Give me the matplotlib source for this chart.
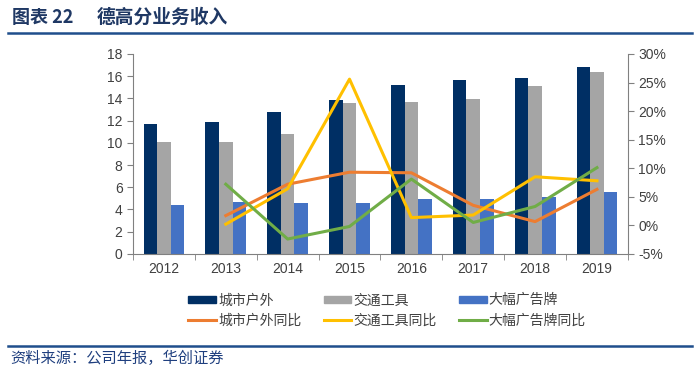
import numpy as np
import matplotlib.pyplot as plt
from matplotlib.patches import Patch
from matplotlib.lines import Line2D
from matplotlib.ticker import FuncFormatter

plt.rcParams['font.family'] = ['Noto Sans CJK SC', 'DejaVu Sans']

years = ['2012', '2013', '2014', '2015', '2016', '2017', '2018', '2019']
outdoor = [11.7, 11.9, 12.75, 13.9, 15.2, 15.7, 15.85, 16.87]
transport = [10.1, 10.1, 10.8, 13.55, 13.7, 13.95, 15.15, 16.35]
billboard = [4.38, 4.65, 4.55, 4.55, 4.9, 4.9, 5.1, 5.6]

# 同比 (%), 2013 起
outdoor_yoy = [1.7, 7.2, 9.3, 9.2, 3.5, 0.65, 6.3]
transport_yoy = [0.2, 6.4, 25.6, 1.35, 1.8, 8.5, 7.8]
billboard_yoy = [7.2, -2.4, -0.2, 8.1, 0.5, 3.3, 10.1]

c_dark = '#002f64'
c_gray = '#a5a5a5'
c_blue = '#4472c4'
c_orange = '#ed7d31'
c_yellow = '#ffc000'
c_green = '#70ad47'
axis_col = '#808080'
txt_col = '#404040'
tick_font = 'Liberation Sans'

fig = plt.figure(figsize=(7, 3.75), dpi=100)
ax = fig.add_axes([0.19, 0.323, 0.707, 0.533])
ax2 = ax.twinx()

x = np.arange(len(years))
w = 0.22
ax.bar(x - w, outdoor, w, color=c_dark)
ax.bar(x, transport, w, color=c_gray)
ax.bar(x + w, billboard, w, color=c_blue)

ax.set_xlim(-0.5, len(years) - 0.5)
ax.set_ylim(0, 18)
ax.set_yticks(range(0, 19, 2))
ax.set_xticks(x)
ax.set_xticklabels(years)
ax.set_xticks(np.arange(-0.5, len(years), 1), minor=True)
ax.tick_params(axis='x', which='major', length=0, pad=6)
ax.tick_params(axis='x', which='minor', length=4, color=axis_col, direction='out')
ax.tick_params(axis='y', length=4, color=axis_col, labelsize=10, labelcolor=txt_col)
ax.tick_params(axis='x', labelsize=10, labelcolor=txt_col)

x2 = x[1:]
ax2.plot(x2, outdoor_yoy, color=c_orange, lw=2.2)
ax2.plot(x2, transport_yoy, color=c_yellow, lw=2.2)
ax2.plot(x2, billboard_yoy, color=c_green, lw=2.2)
ax2.set_ylim(-5, 30)
ax2.set_yticks(range(-5, 31, 5))
ax2.yaxis.set_major_formatter(FuncFormatter(lambda v, p: f'{v:.0f}%'))
ax2.tick_params(axis='y', length=4, color=axis_col, labelsize=10, labelcolor=txt_col)

for lab in ax.get_xticklabels() + ax.get_yticklabels() + ax2.get_yticklabels():
    lab.set_fontfamily(tick_font)

for a in (ax, ax2):
    a.spines['top'].set_visible(False)
    for s in ('left', 'right', 'bottom'):
        a.spines[s].set_color(axis_col)
ax.spines['right'].set_visible(False)
ax2.spines['left'].set_visible(False)
ax2.spines['bottom'].set_visible(False)

handles = [
    Patch(color=c_dark), Line2D([], [], color=c_orange, lw=2.2),
    Patch(color=c_gray), Line2D([], [], color=c_yellow, lw=2.2),
    Patch(color=c_blue), Line2D([], [], color=c_green, lw=2.2),
]
labels = ['城市户外', '城市户外同比', '交通工具', '交通工具同比', '大幅广告牌', '大幅广告牌同比']
fig.legend(handles, labels, ncol=3, loc='center', bbox_to_anchor=(0.553, 0.172),
           frameon=False, fontsize=10, handlelength=2.0, handleheight=0.4,
           columnspacing=1.6, labelspacing=0.45, handletextpad=0.15,
           labelcolor=txt_col)

# 标题和来源
fig.text(0.017, 0.953, '图表 22', fontsize=13, fontweight='bold',
         color='#1f3864', va='center')
fig.text(0.138, 0.953, '德高分业务收入', fontsize=13.5, fontweight='bold',
         color='#1f3864', va='center')
fig.add_artist(Line2D([0.012, 0.988], [0.912, 0.912], color='#1f4e8c', lw=1.8))
fig.add_artist(Line2D([0.012, 0.988], [0.078, 0.078], color='#1f4e8c', lw=1.8))
fig.text(0.014, 0.045, '资料来源：公司年报，华创证券', fontsize=11, style='italic',
         color='#1f3f7f', va='center')

fig.savefig('out.png', dpi=100)
